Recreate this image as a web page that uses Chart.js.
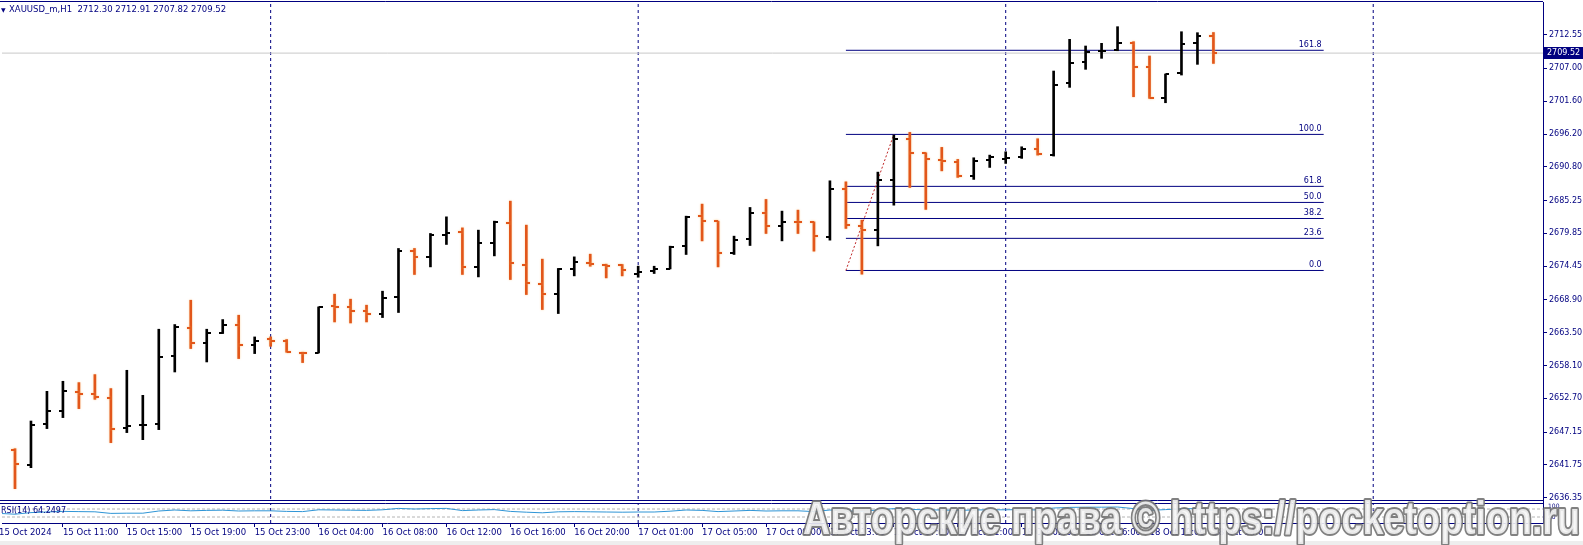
<!DOCTYPE html>
<html>
<head>
<meta charset="utf-8">
<script src="https://cdn.jsdelivr.net/npm/chart.js@4.4.1/dist/chart.umd.min.js"></script>
<style>
  html, body { margin: 0; padding: 0; background: #fff; }
  canvas { display: block; }
</style>
</head>
<body>
<canvas id="chart" width="1583" height="545"></canvas>
<script>
// XAUUSD_m H1, bar -1 = 15 Oct 07:00 (cut off at the left edge), bar 75 = 18 Oct 14:00
const firstBar = -1;
const opens  = [2645.20, 2644.25, 2641.66, 2648.46, 2650.61, 2653.74, 2653.41, 2652.81, 2647.87, 2648.30,
                2648.41, 2659.62, 2664.28, 2661.81, 2663.52, 2664.84, 2661.55, 2662.40, 2662.09, 2660.22,
                2660.16, 2667.90, 2667.74, 2667.03, 2666.54, 2669.39, 2676.97, 2675.98, 2679.55, 2680.00,
                2674.33, 2678.28, 2681.58, 2674.66, 2671.53, 2669.88, 2674.00, 2674.99, 2674.66, 2674.56,
                2673.21, 2673.67, 2674.00, 2677.79, 2682.68, 2681.86, 2676.64, 2678.94, 2683.23, 2681.08,
                2681.74, 2681.65, 2679.30, 2687.18, 2681.08, 2680.42, 2688.66, 2695.42, 2693.01, 2691.91,
                2691.63, 2689.27, 2691.91, 2692.07, 2692.45, 2693.67, 2692.73, 2704.54, 2708.10, 2709.84,
                2710.03, 2711.23, 2707.28, 2702.17, 2706.19, 2711.23, 2712.30];
const highs  = [2645.80, 2644.40, 2648.96, 2653.85, 2655.50, 2655.28, 2656.60, 2654.30, 2657.31, 2653.19,
                2664.07, 2664.84, 2668.84, 2664.07, 2665.66, 2666.37, 2662.80, 2662.80, 2662.37, 2660.28,
                2667.74, 2669.83, 2669.01, 2668.02, 2670.33, 2677.36, 2677.36, 2679.83, 2682.57, 2680.75,
                2680.38, 2681.86, 2685.15, 2681.20, 2675.60, 2674.07, 2675.98, 2676.42, 2674.77, 2674.72,
                2674.45, 2674.44, 2677.74, 2682.68, 2684.66, 2681.86, 2679.39, 2684.11, 2685.43, 2683.51,
                2683.67, 2681.74, 2688.50, 2688.33, 2682.02, 2689.93, 2696.03, 2696.47, 2693.11, 2694.00,
                2692.02, 2692.29, 2692.73, 2693.28, 2694.10, 2695.42, 2706.57, 2711.79, 2710.69, 2711.13,
                2713.87, 2711.40, 2709.04, 2706.08, 2713.04, 2712.88, 2712.91];
const lows   = [2643.60, 2637.82, 2641.28, 2647.71, 2649.52, 2651.00, 2652.53, 2645.40, 2647.05, 2645.89,
                2647.54, 2657.03, 2660.89, 2658.68, 2663.36, 2659.24, 2660.06, 2661.26, 2660.28, 2658.58,
                2660.16, 2665.27, 2665.10, 2665.27, 2665.99, 2666.82, 2673.08, 2674.33, 2678.02, 2673.08,
                2672.68, 2676.14, 2672.25, 2669.78, 2667.31, 2666.65, 2672.85, 2674.44, 2672.52, 2672.85,
                2672.63, 2673.24, 2674.00, 2676.37, 2678.61, 2674.33, 2676.37, 2677.85, 2679.83, 2678.61,
                2679.83, 2676.92, 2678.73, 2680.66, 2673.13, 2677.79, 2684.49, 2687.41, 2683.79, 2690.14,
                2689.06, 2688.73, 2690.70, 2691.36, 2692.19, 2692.73, 2692.57, 2703.88, 2706.85, 2708.66,
                2709.91, 2702.34, 2702.07, 2701.35, 2705.91, 2707.67, 2707.82];
const closes = [2644.41, 2641.87, 2648.37, 2650.61, 2653.85, 2653.47, 2652.91, 2647.64, 2648.13, 2648.35,
                2659.50, 2664.45, 2661.81, 2663.46, 2664.84, 2661.55, 2662.20, 2662.15, 2660.39, 2660.15,
                2667.74, 2667.74, 2667.08, 2666.65, 2669.29, 2676.97, 2675.98, 2679.55, 2679.93, 2674.33,
                2678.18, 2681.64, 2675.05, 2671.69, 2669.88, 2673.90, 2675.10, 2674.77, 2674.50, 2673.79,
                2673.57, 2673.95, 2677.62, 2682.57, 2681.86, 2676.64, 2678.73, 2683.23, 2681.08, 2681.74,
                2681.65, 2679.39, 2687.13, 2681.25, 2680.38, 2688.66, 2695.37, 2693.11, 2692.07, 2691.79,
                2689.27, 2691.79, 2692.35, 2692.29, 2693.67, 2692.95, 2704.26, 2707.94, 2709.75, 2709.90,
                2711.23, 2707.28, 2702.17, 2706.03, 2711.02, 2712.34, 2709.52];
const rsiValues = [48, 44, 52, 55, 58, 57, 56, 48, 49, 49,
                   60, 65, 61, 63, 64, 60, 61, 61, 58, 57,
                   66, 65, 64, 63, 66, 73, 70, 72, 73, 62,
                   65, 67, 58, 54, 51, 56, 57, 56, 55, 54,
                   55, 55, 59, 65, 63, 57, 60, 63, 60, 61,
                   61, 57, 65, 60, 59, 65, 72, 68, 66, 65,
                   63, 65, 66, 66, 67, 65, 75, 78, 79, 79,
                   80, 72, 63, 67, 71, 72, 64.2497];

const timeTickBars = [-1, 3, 7, 11, 15, 19, 23, 27, 31, 35, 39, 43, 47, 51, 55, 59, 63, 67, 71, 75];
const timeLabels = ['15 Oct 2024', '15 Oct 11:00', '15 Oct 15:00', '15 Oct 19:00', '15 Oct 23:00',
                    '16 Oct 04:00', '16 Oct 08:00', '16 Oct 12:00', '16 Oct 16:00', '16 Oct 20:00',
                    '17 Oct 01:00', '17 Oct 05:00', '17 Oct 09:00', '17 Oct 13:00', '17 Oct 17:00',
                    '17 Oct 21:00', '18 Oct 02:00', '18 Oct 06:00', '18 Oct 10:00', '18 Oct 14:00'];
const priceTicks = [2712.55, 2707.00, 2701.60, 2696.20, 2690.80, 2685.25, 2679.85, 2674.45,
                    2668.90, 2663.50, 2658.10, 2652.70, 2647.15, 2641.75, 2636.35];
const daySeparators = [16, 39, 62, 85];

const fibLevels = [0, 23.6, 38.2, 50, 61.8, 100, 161.8];
const fibLow = 2673.74, fibHigh = 2696.14;
const fibFrom = 52, fibTo = 81.9, fibHighBar = 55;
const rsiLevels = [70, 30];
const rsiAxisLabels = ['100', '70', '30'];
const symbolName = 'XAUUSD_m,H1';
const watermark = 'Авторские права © https://pocketoption.ru';

// view ranges
const xMin = -0.8125, xMax = 95.625;
const yMin = 2632.171, yMax = 2717.933;
const rsiMax = 2605;

const NAVY = '#000080';
const UP = '#000000';
const DOWN = '#e2561a';
const FONT = 'DejaVu Sans';

function tickImage(color, side) {
  const c = document.createElement('canvas');
  c.width = 8; c.height = 2;
  const g = c.getContext('2d');
  g.fillStyle = color;
  g.fillRect(side === 'left' ? 0 : 4, 0, 4, 2);
  return c;
}

function sideDatasets(isUp) {
  const color = isUp ? UP : DOWN;
  const range = [], op = [], cl = [];
  opens.forEach((o, k) => {
    const c = closes[k];
    if ((c >= o) !== isUp) return;
    const x = firstBar + k;
    range.push({ x: x, y: [lows[k], highs[k]] });
    op.push({ x: x, y: o });
    cl.push({ x: x, y: c });
  });
  const pts = { type: 'line', showLine: false, pointRadius: 1, pointHoverRadius: 0, glow: !isUp };
  return [
    Object.assign({ data: op, pointStyle: tickImage(color, 'left') }, pts),
    Object.assign({ data: cl, pointStyle: tickImage(color, 'right') }, pts),
    { type: 'bar', data: range, backgroundColor: color, borderWidth: 0, barThickness: 2, grouped: false, glow: !isUp }
  ];
}

const fibPrice = lvl => fibLow + (fibHigh - fibLow) * lvl / 100;

const datasets = [
  ...sideDatasets(false),
  ...sideDatasets(true),
  { type: 'line', data: [{ x: fibFrom, y: fibLow }, { x: fibHighBar, y: fibHigh }],
    borderColor: '#c02828', borderWidth: 1, borderDash: [2, 2], pointRadius: 0 },
  ...fibLevels.map(l => ({ type: 'line', data: [{ x: fibFrom, y: fibPrice(l) }, { x: fibTo, y: fibPrice(l) }],
    borderColor: NAVY, borderWidth: 1, pointRadius: 0 })),
  { type: 'line', yAxisID: 'yr', data: rsiValues.map((v, k) => ({ x: firstBar + k, y: v })),
    borderColor: '#2f95d6', borderWidth: 1, pointRadius: 0 },
  ...rsiLevels.map(l => ({ type: 'line', yAxisID: 'yr', data: [{ x: xMin, y: l }, { x: xMax, y: l }],
    borderColor: '#b4b4b4', borderWidth: 1, borderDash: [3, 2], pointRadius: 0 })),
  { type: 'line', data: [{ x: xMin, y: closes[closes.length - 1] }, { x: xMax, y: closes[closes.length - 1] }],
    borderColor: '#c8c8c8', borderWidth: 1, pointRadius: 0 },
  ...daySeparators.map(b => ({ type: 'line', data: [{ x: b, y: yMin }, { x: b, y: yMax }],
    borderColor: NAVY, borderWidth: 1, borderDash: [3, 3], pointRadius: 0 }))
];

const decor = {
  id: 'decor',
  beforeDraw(chart) {
    const ctx = chart.ctx;
    ctx.save();
    ctx.fillStyle = '#ffffff';
    ctx.fillRect(0, 0, chart.width, chart.height);
    ctx.restore();
  },
  beforeDatasetDraw(chart, args) {
    if (chart.data.datasets[args.index].glow) {
      chart.ctx.save();
      chart.ctx.shadowColor = 'rgba(250,180,90,0.6)';
      chart.ctx.shadowBlur = 2;
    }
  },
  afterDatasetDraw(chart, args) {
    if (chart.data.datasets[args.index].glow) chart.ctx.restore();
  },
  afterDatasetsDraw(chart) {
    const ctx = chart.ctx, x = chart.scales.x, y = chart.scales.y;
    ctx.save();
    ctx.font = '8px "' + FONT + '"';
    ctx.fillStyle = NAVY;
    ctx.textAlign = 'right';
    ctx.textBaseline = 'alphabetic';
    fibLevels.forEach(l => {
      ctx.fillText(l.toFixed(1), x.getPixelForValue(fibTo) - 2, y.getPixelForValue(fibPrice(l)) - 3);
    });
    ctx.restore();
  },
  afterDraw(chart) {
    const ctx = chart.ctx, area = chart.chartArea, y = chart.scales.y, yr = chart.scales.yr;
    ctx.save();
    // frame
    ctx.strokeStyle = NAVY;
    ctx.lineWidth = 1;
    const rsiTop = Math.round(yr.getPixelForValue(100)) + 0.5;
    ctx.beginPath();
    ctx.moveTo(0, 1.5); ctx.lineTo(area.right, 1.5);
    ctx.moveTo(0, rsiTop); ctx.lineTo(area.right, rsiTop);
    ctx.moveTo(0, rsiTop - 3); ctx.lineTo(area.right, rsiTop - 3);
    ctx.stroke();
    ctx.fillStyle = '#ffffff';
    ctx.fillRect(0, rsiTop - 2.5, area.right, 2);

    // title
    const n = closes.length - 1;
    ctx.fillStyle = NAVY;
    ctx.font = '6px "' + FONT + '"';
    ctx.textBaseline = 'middle';
    ctx.fillText('▼', 1, 10);
    ctx.font = '8.5px "' + FONT + '"';
    ctx.fillText(symbolName + '  ' + [opens[n], highs[n], lows[n], closes[n]].map(v => v.toFixed(2)).join(' '), 9, 10);

    // RSI caption and axis labels
    ctx.font = '8px "' + FONT + '"';
    ctx.fillText('RSI(14) ' + rsiValues[n].toFixed(4), 1, yr.getPixelForValue(62));
    ctx.font = '6px "' + FONT + '"';
    ctx.fillText(rsiAxisLabels[0], area.right + 5, yr.getPixelForValue(100) + 3);
    ctx.fillText(rsiAxisLabels[1], area.right + 5, yr.getPixelForValue(70) + 2);
    ctx.fillText(rsiAxisLabels[2], area.right + 5, yr.getPixelForValue(30));

    // last price tag
    const py = y.getPixelForValue(closes[n]);
    ctx.fillStyle = NAVY;
    ctx.fillRect(area.right + 1, Math.round(py) - 6, chart.width - area.right - 1, 12);
    ctx.fillStyle = '#ffffff';
    ctx.font = '8px "' + FONT + '"';
    ctx.fillText(closes[n].toFixed(2), area.right + 4, Math.round(py));

    // bottom strip
    ctx.fillStyle = '#eeeeee';
    ctx.fillRect(0, 541, chart.width, chart.height - 541);

    // watermark
    ctx.font = 'bold 46px "Liberation Sans"';
    const w = ctx.measureText(watermark).width;
    const left = 803, right = 1580;
    ctx.translate(left, 534);
    ctx.scale((right - left) / w, 1);
    ctx.textBaseline = 'alphabetic';
    ctx.lineJoin = 'round';
    ctx.lineWidth = 4;
    ctx.strokeStyle = 'rgba(115,115,115,0.9)';
    ctx.strokeText(watermark, 0, 0);
    ctx.fillStyle = 'rgba(246,246,246,0.88)';
    ctx.fillText(watermark, 0, 0);
    ctx.restore();
  }
};

function noPad(s) {
  s.paddingTop = 0; s.paddingBottom = 0; s.paddingLeft = 0; s.paddingRight = 0;
}

new Chart(document.getElementById('chart'), {
  type: 'line',
  data: { datasets: datasets },
  plugins: [decor],
  options: {
    responsive: false,
    animation: false,
    devicePixelRatio: 1,
    events: [],
    layout: { padding: { top: 2, left: 0, right: 0, bottom: 0 } },
    plugins: { legend: { display: false }, tooltip: { enabled: false } },
    scales: {
      x: {
        type: 'linear', position: 'bottom', min: xMin, max: xMax, offset: false,
        afterBuildTicks: s => { s.ticks = timeTickBars.map(v => ({ value: v })); },
        afterFit: s => { s.height = 22; noPad(s); },
        ticks: {
          autoSkip: false, maxRotation: 0, align: 'start', padding: 1, color: NAVY,
          font: { family: FONT, size: 8.5 },
          callback: v => timeLabels[timeTickBars.indexOf(v)]
        },
        grid: { display: true, drawOnChartArea: false, drawTicks: true, tickLength: 4, color: NAVY, offset: false },
        border: { display: true, color: NAVY, width: 1 }
      },
      y: {
        type: 'linear', position: 'right', min: yMin, max: yMax,
        afterBuildTicks: s => { s.ticks = priceTicks.map(v => ({ value: v })); },
        afterFit: s => { s.width = 40; noPad(s); },
        ticks: { padding: 2, color: NAVY, font: { family: FONT, size: 8 }, callback: v => v.toFixed(2) },
        grid: { display: true, drawOnChartArea: false, drawTicks: true, tickLength: 4, color: NAVY },
        border: { display: true, color: NAVY, width: 1 }
      },
      yr: { type: 'linear', display: false, min: 0, max: rsiMax }
    }
  }
});
</script>
</body>
</html>
